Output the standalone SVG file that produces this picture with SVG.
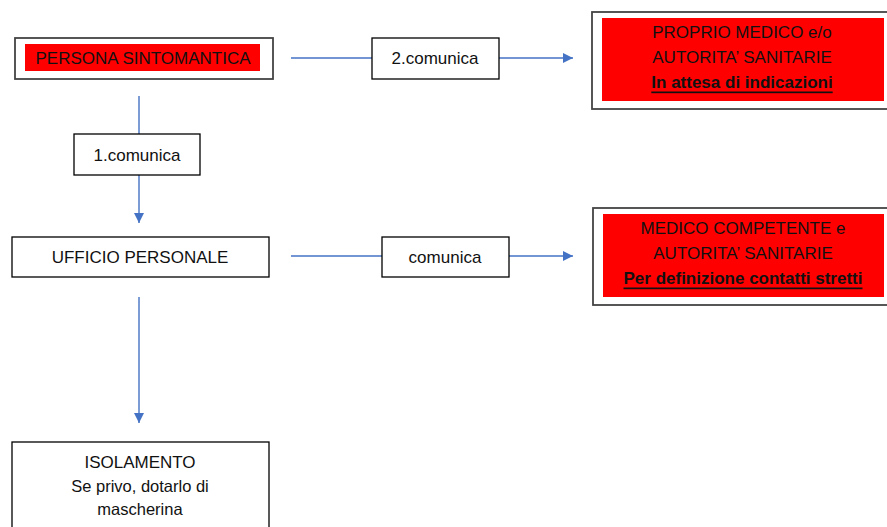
<svg xmlns="http://www.w3.org/2000/svg" width="887" height="527" viewBox="0 0 887 527">
<style>
.box{fill:#fff;stroke:#000;stroke-width:1.3}
.dbl{fill:#fff;stroke:#444;stroke-width:1.8}
.red{fill:#ff0000}
.t{font-family:"Liberation Sans",Arial,sans-serif;font-size:17px;fill:#111;text-anchor:middle;dominant-baseline:central}
.b{font-weight:bold;text-decoration:underline}
.s{font-size:16.5px}
.c{stroke:#4472C4;stroke-width:1.4;fill:none}
</style>
<defs>
<marker id="ah" markerWidth="10" markerHeight="10" refX="10" refY="5" orient="auto" markerUnits="userSpaceOnUse">
<path d="M0,0 L10,5 L0,10 Z" fill="#4472C4"/>
</marker>
</defs>
<g id="connectors">
<line class="c" x1="291" y1="58" x2="372" y2="58"/>
<line class="c" x1="499" y1="58" x2="573" y2="58" marker-end="url(#ah)"/>
<line class="c" x1="139" y1="96" x2="139" y2="134"/>
<line class="c" x1="139" y1="175" x2="139" y2="223" marker-end="url(#ah)"/>
<line class="c" x1="291" y1="256" x2="382" y2="256"/>
<line class="c" x1="509" y1="256" x2="573" y2="256" marker-end="url(#ah)"/>
<line class="c" x1="139" y1="297" x2="139" y2="423" marker-end="url(#ah)"/>
</g>
<g id="persona">
<rect class="dbl" x="15" y="38" width="258" height="41"/>
<rect class="red" x="25" y="44" width="235" height="27"/>
<text class="t" x="143" y="58">PERSONA SINTOMANTICA</text>
</g>
<g id="comunica2">
<rect class="box" x="372" y="38" width="127" height="41"/>
<text class="t" x="435" y="58">2.comunica</text>
</g>
<g id="medico">
<rect class="dbl" x="592" y="12" width="300" height="97"/>
<rect class="red" x="602" y="18" width="282" height="83"/>
<text class="t" x="742" y="32">PROPRIO MEDICO e/o</text>
<text class="t" x="742" y="57">AUTORITA’ SANITARIE</text>
<text class="t b" x="742" y="82">In attesa di indicazioni</text>
</g>
<g id="comunica1">
<rect class="box" x="74" y="134" width="126" height="41"/>
<text class="t" x="137" y="155">1.comunica</text>
</g>
<g id="ufficio">
<rect class="box" x="12" y="237" width="257" height="40"/>
<text class="t" x="140" y="257">UFFICIO PERSONALE</text>
</g>
<g id="comunica">
<rect class="box" x="382" y="237" width="127" height="40"/>
<text class="t" x="445" y="257">comunica</text>
</g>
<g id="medicocompetente">
<rect class="dbl" x="593" y="208" width="300" height="97"/>
<rect class="red" x="603" y="214" width="281" height="83"/>
<text class="t" x="743" y="228">MEDICO COMPETENTE e</text>
<text class="t" x="743" y="253">AUTORITA’ SANITARIE</text>
<text class="t b" x="743" y="278">Per definizione contatti stretti</text>
</g>
<g id="isolamento">
<rect class="box" x="12" y="442" width="257" height="95"/>
<text class="t" x="140" y="462">ISOLAMENTO</text>
<text class="t s" x="140" y="486">Se privo, dotarlo di</text>
<text class="t s" x="140" y="509">mascherina</text>
</g>
</svg>
